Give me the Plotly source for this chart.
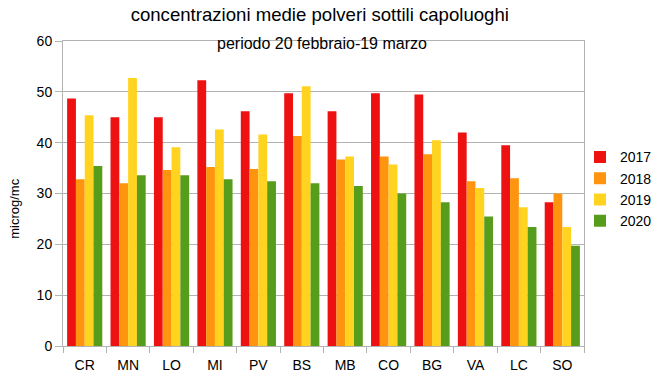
import plotly.graph_objects as go

categories = ["CR", "MN", "LO", "MI", "PV", "BS", "MB", "CO", "BG", "VA", "LC", "SO"]
y2017 = [48.7, 45.0, 45.0, 52.3, 46.2, 49.7, 46.2, 49.7, 49.5, 42.0, 39.5, 28.3]
y2018 = [32.8, 32.0, 34.6, 35.2, 34.8, 41.3, 36.7, 37.3, 37.7, 32.4, 33.0, 30.0]
y2019 = [45.4, 52.7, 39.1, 42.6, 41.6, 51.1, 37.3, 35.7, 40.5, 31.1, 27.3, 23.4]
y2020 = [35.4, 33.6, 33.6, 32.8, 32.4, 32.0, 31.5, 30.0, 28.3, 25.5, 23.4, 19.7]
series_names = ["2017", "2018", "2019", "2020"]
colors = ["#ee1111", "#ff950e", "#ffd320", "#579d1c"]

fig = go.Figure()
for name, vals, c in zip(series_names, [y2017, y2018, y2019, y2020], colors):
    fig.add_trace(go.Bar(x=categories, y=vals, name=name, marker_color=c,
                         marker_line_width=0))

grid = "#b3b3b3"
fig.update_layout(
    width=658, height=376,
    margin=dict(l=63, r=74, t=41, b=30, autoexpand=False),
    paper_bgcolor="white", plot_bgcolor="white",
    font=dict(family="Liberation Sans, Arial, sans-serif", size=14, color="#000000"),
    barmode="group", bargap=0.19, bargroupgap=0,
    title=dict(text="concentrazioni medie polveri sottili capoluoghi",
               x=0.486, xanchor="center", y=0.962, yanchor="middle",
               font=dict(size=18.6)),
    legend=dict(x=1.0 - 4 / 521, xanchor="left", y=0.515, yanchor="middle",
                font=dict(size=14), traceorder="normal", bgcolor="rgba(0,0,0,0)",
                tracegroupgap=0),
    showlegend=True,
)
fig.add_annotation(text="periodo 20 febbraio-19 marzo", xref="paper", yref="paper",
                   x=0.498, y=0.993, xanchor="center", yanchor="middle",
                   showarrow=False, font=dict(size=16))
fig.add_annotation(text="microg/mc", xref="paper", yref="paper",
                   x=-0.092, y=0.45, xanchor="center", yanchor="middle",
                   textangle=-90, showarrow=False, font=dict(size=13))
fig.update_xaxes(showline=True, linecolor=grid, linewidth=1, mirror=True,
                 ticks="outside", tickson="boundaries", ticklen=6, tickcolor=grid,
                 showgrid=False, tickfont=dict(size=14), automargin=False,
                 ticklabelstandoff=6)
fig.update_yaxes(range=[0, 60], dtick=10, showline=True, linecolor=grid, linewidth=1,
                 mirror=True, ticks="outside", ticklen=7, tickcolor=grid,
                 showgrid=True, gridcolor=grid, gridwidth=1, zeroline=False,
                 tickfont=dict(size=14), automargin=False)

fig.write_html("out.html", config={"displayModeBar": False},
               post_script="document.body.style.margin='0';document.body.style.overflow='hidden';")
